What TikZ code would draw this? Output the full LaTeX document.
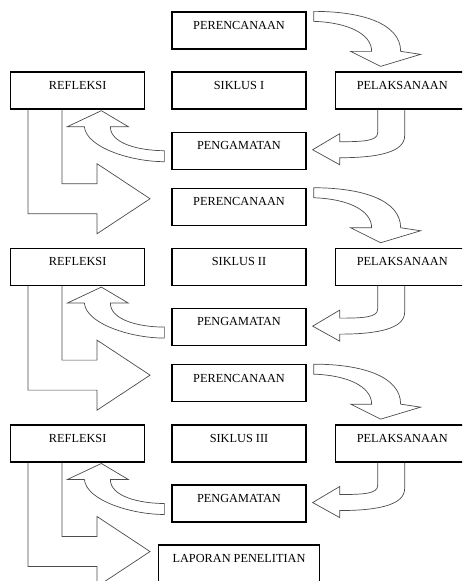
\documentclass[tikz,border=0pt]{standalone}
\usepackage{fontspec}
\setmainfont{Liberation Serif}
\usetikzlibrary{positioning, backgrounds}
\tikzset{
  % Box styles
  siklusbox/.style={rectangle, draw=black, line width=1.1pt, minimum width=4.02cm, minimum height=1.11cm, inner xsep=2pt, inner ysep=0pt, text height=0.52cm, text depth=0.59cm, font=\fontsize{10.5}{12}\selectfont},
  % Arrow styles
  blockarrow/.style={draw=black!70, fill=white, line width=0.6pt, line join=miter},
  % Block arrow shapes (pixel units)
  bendright/.pic={\draw[blockarrow] (7,0) .. controls (55,0) and (94,12) .. (94,40) -- (114,43) -- (74,55) -- (44,40) -- (65,40) .. controls (65,22) and (40,11) .. (7,10) -- cycle;},
  bendleft/.pic={\draw[blockarrow] (43,0) -- (43,23) .. controls (43,31) and (30,32) .. (5,32) -- (5,24) -- (-22,40) -- (5,55) -- (5,48) .. controls (45,48) and (70,42) .. (70,26) -- (70,0);},
  bendup/.pic={\draw[blockarrow] (-7,0) .. controls (-32,0) and (-61,-7) .. (-61,-24) -- (-43,-24) -- (-70,-40) -- (-104,-24) -- (-87,-24) .. controls (-85,-3) and (-40,11) .. (-7,11) -- cycle;},
  lshape/.pic={\draw[blockarrow] (52,0) -- (52,74) -- (87,74) -- (87,54) -- (140,89) -- (87,124) -- (87,104) -- (18,104) -- (18,0);}
}

\begin{document}
\begin{tikzpicture}[x=0.03cm, y=-0.03cm]
  \clip (0,0) rectangle (462,581);

  % Three cycles
  \foreach \i/\r in {1/I, 2/II, 3/III} {
    \node[siklusbox] (ren\i) at (239, {30.5+(\i-1)*176.4}) {PERENCANAAN};
    \node[siklusbox, below=0.654cm of ren\i] (sik\i) {SIKLUS \r};
    \node[siklusbox, left=0.78cm of sik\i] (ref\i) {REFLEKSI};
    \node[siklusbox, right=0.84cm of sik\i] (pel\i) {PELAKSANAAN};
    \node[siklusbox, below=0.654cm of sik\i] (pen\i) {PENGAMATAN};
  }
  \node[siklusbox, below=0.654cm of pen3, minimum width=4.83cm] (lap) {LAPORAN PENELITIAN};

  % Block arrows
  \begin{scope}[on background layer]
    \foreach \i in {1,2,3} {
      \pic at (ren\i.north east) {bendright};
      \pic at (pel\i.south west) {bendleft};
      \pic at (pen\i.west) {bendup};
      \pic at (ref\i.south west) {lshape};
    }
  \end{scope}
\end{tikzpicture}
\end{document}
